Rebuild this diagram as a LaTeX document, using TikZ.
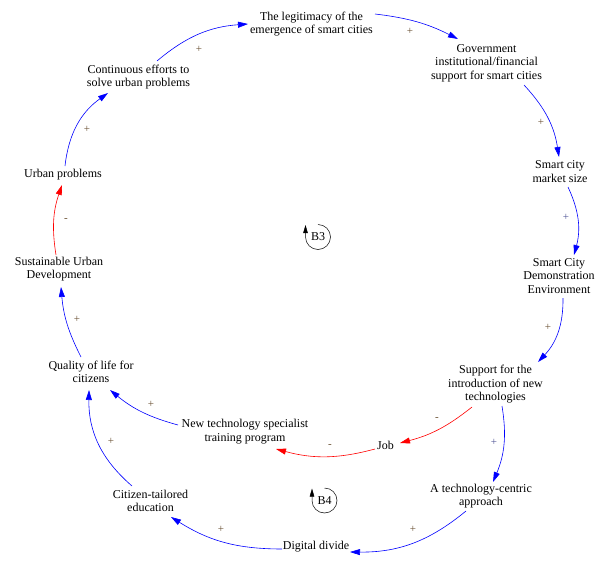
\documentclass[tikz,border=0pt]{standalone}
\usepackage{fontspec}
\setmainfont{Liberation Serif}
\usetikzlibrary{arrows.meta}
\definecolor{signbrown}{RGB}{105,80,50}
\definecolor{signblue}{RGB}{80,85,150}
\begin{document}
\begin{tikzpicture}[x=1pt,y=1pt,
  varnode/.style={font=\fontsize{12}{13.5}\selectfont, align=center, inner sep=0pt},
  poslink/.style={draw={rgb,255:red,0;green,0;blue,255}, line width=0.6pt, -{Triangle[length=10pt,width=6pt]}},
  neglink/.style={draw={rgb,255:red,255;green,0;blue,0}, line width=0.6pt, -{Triangle[length=10pt,width=6pt]}},
  polsign/.style={font=\fontsize{11}{11}\selectfont, text=signbrown, inner sep=0pt},
  bluesign/.style={polsign, text=signblue},
  loopline/.style={draw=black, line width=0.5pt, -{Triangle[length=8pt,width=4.5pt]}},
  loopname/.style={font=\fontsize{12}{13.5}\selectfont, inner sep=0pt}
]
\fill[white] (0,0) rectangle (605,-562);
\useasboundingbox (0,0) rectangle (605,-562);

% variables
\node[varnode] (legit)   at (311.5,-24)  {The legitimacy of the\\emergence of smart cities};
\node[varnode] (gov)     at (486.5,-63)  {Government\\institutional/financial\\support for smart cities};
\node[varnode] (market)  at (560,-171.5) {Smart city\\market size};
\node[varnode] (demo)    at (559,-276)   {Smart City\\Demonstration\\Environment};
\node[varnode] (support) at (495.5,-384.5) {Support for the\\introduction of new\\technologies};
\node[varnode] (tech)    at (481,-496)   {A technology-centric\\approach};
\node[varnode] (digital) at (316,-547)   {Digital divide};
\node[varnode] (citizen) at (150.5,-501) {Citizen-tailored\\education};
\node[varnode] (job)     at (385.5,-445) {Job};
\node[varnode] (train)   at (245,-431.5) {New technology specialist\\training program};
\node[varnode] (quality) at (91,-372)    {Quality of life for\\citizens};
\node[varnode] (sustain) at (59,-269)    {Sustainable Urban\\Development};
\node[varnode] (urban)   at (63,-175)    {Urban problems};
\node[varnode] (cont)    at (138.5,-77)  {Continuous efforts to\\solve urban problems};

% loop markers
\node[loopname] (b3) at (318,-237) {B3};
\node[loopname] (b4) at (324.5,-500.5) {B4};
\draw[loopline] ([shift={(90:12.5)}]b3.center) arc[start angle=90,end angle=-180,radius=12.5] -- ++(0,12);
\draw[loopline] ([shift={(90:12.5)}]b4.center) arc[start angle=90,end angle=-180,radius=12.5] -- ++(0,12);

% links
\draw[poslink] ([shift={(63.5,10)}]legit.center) to[bend left=10] ([shift={(-28.5,24)}]gov.center);
\draw[poslink] ([shift={(37.5,-22)}]gov.center) to[bend left=17] ([shift={(-1,14.5)}]market.center);
\draw[poslink] ([shift={(8,-15.5)}]market.center) to[bend left=20] ([shift={(15,21)}]demo.center);
\draw[poslink] ([shift={(4,-22)}]demo.center) to[bend left=22] ([shift={(42.5,22.5)}]support.center);
\draw[neglink] ([shift={(-23.5,-22.5)}]support.center) to[bend left=12] ([shift={(14.5,2)}]job.center);
\draw[neglink] ([shift={(-10.5,-4)}]job.center) to[bend left=15] ([shift={(31,-17.5)}]train.center);
\draw[poslink] ([shift={(-67,6.5)}]train.center) to[bend left=12] ([shift={(19,-18)}]quality.center);
\draw[poslink] ([shift={(6.5,-21.5)}]support.center) to[bend left=16] ([shift={(12,14)}]tech.center);
\draw[poslink] ([shift={(-15,-15)}]tech.center) to[bend left=20] ([shift={(34,-5)}]digital.center);
\draw[poslink] ([shift={(-34,-2)}]digital.center) to[bend left=16] ([shift={(20.5,-16)}]citizen.center);
\draw[poslink] ([shift={(-18.5,15)}]citizen.center) to[bend left=25] ([shift={(-2,-18)}]quality.center);
\draw[poslink] ([shift={(-10,15)}]quality.center) to[bend left=11] ([shift={(2,-18)}]sustain.center);
\draw[neglink] ([shift={(-3,14)}]sustain.center) to[bend left=14] ([shift={(-1,-10)}]urban.center);
\draw[poslink] ([shift={(2,9)}]urban.center) to[bend left=24] ([shift={(-30.5,-16)}]cont.center);
\draw[poslink] ([shift={(18.5,16)}]cont.center) to[bend left=18] ([shift={(-63.5,0)}]legit.center);

% polarity signs
\node[polsign]  (s1)  at (410,-31)  {+};
\node[polsign]  (s2)  at (541,-122) {+};
\node[bluesign] (s3)  at (566,-217) {+};
\node[polsign]  (s4)  at (548,-327) {+};
\node[polsign]  (s5)  at (437,-419) {-};
\node[polsign]  (s6)  at (330,-446) {-};
\node[polsign]  (s7)  at (151,-404) {+};
\node[bluesign] (s8)  at (494,-442) {+};
\node[polsign]  (s9)  at (413,-529) {+};
\node[polsign]  (s10) at (221,-529) {+};
\node[polsign]  (s11) at (111,-441) {+};
\node[polsign]  (s12) at (77,-319)  {+};
\node[polsign]  (s13) at (66,-220)  {-};
\node[polsign]  (s14) at (87,-129)  {+};
\node[polsign]  (s15) at (199,-49)  {+};
\end{tikzpicture}
\end{document}
